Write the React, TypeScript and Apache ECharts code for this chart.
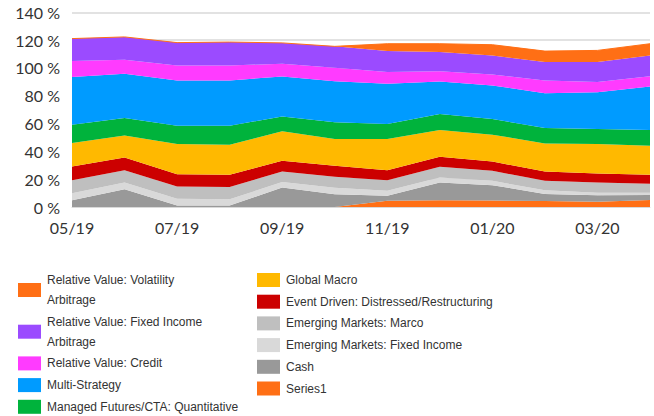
import React, { useEffect, useRef } from "react";
import * as echarts from "echarts";

const categories = ["05/19", "06/19", "07/19", "08/19", "09/19", "10/19", "11/19", "12/19", "01/20", "02/20", "03/20", "04/20"];

const series1 = [0, 0, 0, 0, 0, 0, 4.5, 4.8, 4.6, 4.4, 3.8, 5.0];
const cash = [4.8, 12.8, 1, 1, 14, 9.1, 3.5, 12.8, 11.1, 5, 4.6, 3.7];
const emFixedIncome = [5.1, 4.8, 5, 4.5, 4, 4.8, 3.6, 3.6, 3.1, 2.6, 1.9, 1.6];
const emMarco = [9.4, 8.9, 8.7, 8.9, 7.5, 7.8, 7.7, 7.7, 7.2, 6.8, 7.3, 6.5];
const eventDriven = [9.8, 9.1, 8.9, 8.7, 7.7, 7.9, 7.2, 7.2, 6.7, 6.7, 6.5, 6.3];
const globalMacro = [16.9, 15.9, 21.7, 21.7, 21.2, 19.3, 22.4, 19.3, 19.3, 20.2, 21.2, 20.9];
const managedFutures = [13.2, 12.5, 13.2, 13.7, 10.6, 12, 10.8, 11.5, 11.3, 11.1, 10.8, 11.4];
const multiStrategy = [34.2, 31.8, 32.5, 32.5, 28.9, 29.6, 28.9, 23.3, 24.1, 25, 26.4, 31.2];
const rvCredit = [11.5, 10.1, 10.8, 10.8, 9.1, 9.6, 8.4, 7.5, 7.9, 9.2, 7.3, 7.5];
const rvFixedIncomeArb = [16.2, 16.4, 16.4, 16.8, 15, 15.4, 15.1, 13.7, 13.7, 13.2, 14.4, 14.9];
const rvVolatilityArb = [0, 0, 0, 0, 0, 0, 5.3, 6, 7.7, 7.9, 8.4, 8.4];

const yTicks = [0, 20, 40, 60, 80, 100, 120, 140];

// bottom to top stacking order
const seriesDefs = [
  { name: "Series1", data: series1, color: "#FF6F15" },
  { name: "Cash", data: cash, color: "#999999" },
  { name: "Emerging Markets: Fixed Income", data: emFixedIncome, color: "#D9D9D9" },
  { name: "Emerging Markets: Marco", data: emMarco, color: "#BFBFBF" },
  { name: "Event Driven: Distressed/Restructuring", data: eventDriven, color: "#CC0000" },
  { name: "Global Macro", data: globalMacro, color: "#FFB900" },
  { name: "Managed Futures/CTA: Quantitative", data: managedFutures, color: "#00B33C" },
  { name: "Multi-Strategy", data: multiStrategy, color: "#009BFF" },
  { name: "Relative Value: Credit", data: rvCredit, color: "#FF3BFF" },
  { name: "Relative Value: Fixed Income Arbitrage", data: rvFixedIncomeArb, color: "#9B4BFF" },
  { name: "Relative Value: Volatility Arbitrage", data: rvVolatilityArb, color: "#FF6F15" },
];

const leftLegend = [
  "Relative Value: Volatility Arbitrage",
  "Relative Value: Fixed Income Arbitrage",
  "Relative Value: Credit",
  "Multi-Strategy",
  "Managed Futures/CTA: Quantitative",
];
const rightLegend = [
  "Global Macro",
  "Event Driven: Distressed/Restructuring",
  "Emerging Markets: Marco",
  "Emerging Markets: Fixed Income",
  "Cash",
  "Series1",
];

const wrapNames: Record<string, string> = {
  "Relative Value: Volatility Arbitrage": "Relative Value: Volatility\nArbitrage",
  "Relative Value: Fixed Income Arbitrage": "Relative Value: Fixed Income\nArbitrage",
};

const FONT = "Lato, 'Liberation Sans', sans-serif";

export default function App() {
  const ref = useRef<HTMLDivElement>(null);
  useEffect(() => {
    if (!ref.current) return;
    const chart = echarts.init(ref.current, undefined, { renderer: "svg" });
    const legendBase = {
      orient: "vertical" as const,
      top: 270,
      padding: 0,
      itemGap: 1.7,
      itemWidth: 23,
      itemHeight: 14,
      icon: "rect",
      selectedMode: false,
      formatter: (n: string) => wrapNames[n] || n,
      textStyle: { fontFamily: "'Liberation Sans', sans-serif", fontSize: 12, color: "#333", lineHeight: 20, padding: [0, 0, 0, 1] },
    };
    chart.setOption({
      animation: false,
      textStyle: { fontFamily: FONT },
      grid: { left: 72, right: 4, top: 12.3, bottom: 209 },
      legend: [
        { ...legendBase, left: 18, data: leftLegend },
        { ...legendBase, left: 257, data: rightLegend },
      ],
      xAxis: {
        type: "category",
        data: categories,
        boundaryGap: false,
        axisLine: { show: true, lineStyle: { color: "#D9D9D9", width: 1 } },
        axisTick: { show: false },
        axisLabel: { interval: 1, margin: 12, fontSize: 16, color: "#333", fontFamily: FONT },
      },
      yAxis: {
        type: "value",
        min: yTicks[0],
        max: yTicks[yTicks.length - 1],
        interval: 20,
        axisLine: { show: false },
        axisTick: { show: false },
        splitLine: { lineStyle: { color: "#D9D9D9", width: 1.5 } },
        axisLabel: { formatter: "{value} %", margin: 12, fontSize: 16, color: "#333", fontFamily: FONT },
      },
      series: seriesDefs.map((s) => ({
        name: s.name,
        type: "line",
        stack: "total",
        data: s.data,
        symbol: "none",
        color: s.color,
        itemStyle: { color: s.color },
        lineStyle: { width: s.name === "Relative Value: Volatility Arbitrage" ? 1 : 0, color: s.color },
        areaStyle: { color: s.color, opacity: 1 },
      })),
    });
    return () => chart.dispose();
  }, []);
  return <div ref={ref} style={{ width: 654, height: 416, position: "absolute", left: 0, top: 0 }} />;
}
